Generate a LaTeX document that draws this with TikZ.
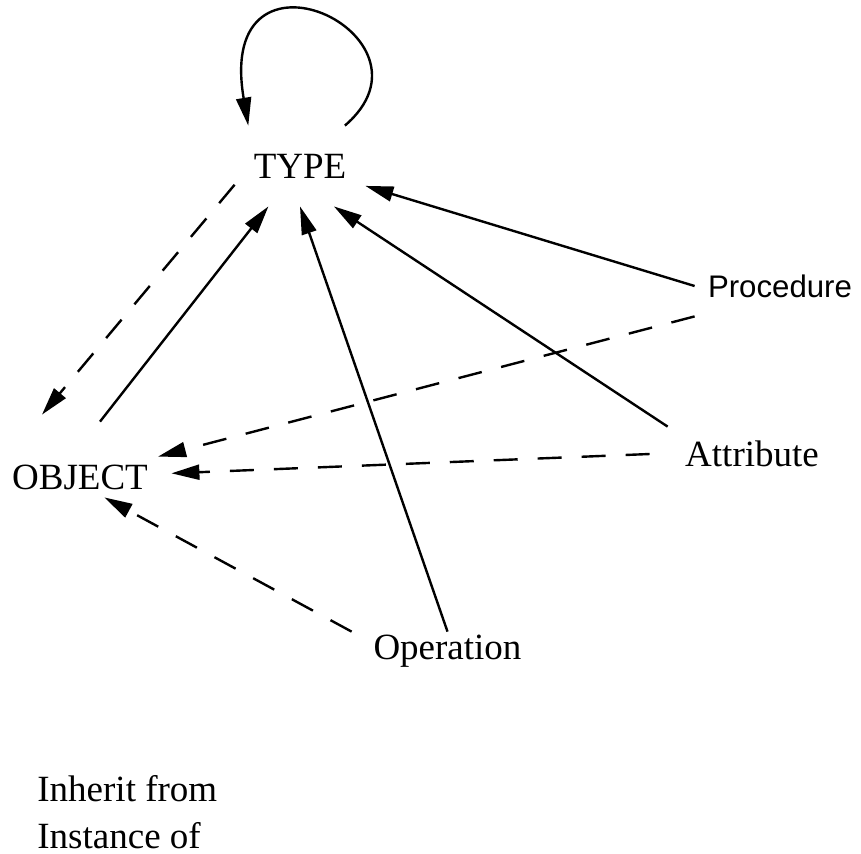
\documentclass[tikz,border=0pt]{standalone}
\usepackage{fontspec}
\setmainfont{Liberation Serif}
\newfontfamily\procfont{Liberation Sans}
\usetikzlibrary{arrows.meta}

\begin{document}
\begin{tikzpicture}[x=0.5pt, y=0.5pt,
    lbl/.style={inner sep=0pt, font=\fontsize{18.5}{22}\selectfont},
    isa/.style={line width=1.2pt, -{Triangle[length=14pt,width=7.5pt]}},
    inst/.style={isa, dash pattern=on 12pt off 10pt}]
			%%%%% START %%%%%
			\useasboundingbox (0,0) rectangle (861,-853);
			
			\node[lbl, minimum width=65pt, minimum height=40pt] (type) at (300,-166) {TYPE};
			\node[lbl, minimum width=91pt, minimum height=20pt] (object) at (80,-477) {OBJECT};
			\node[lbl, font=\procfont\fontsize{15.6}{18}\selectfont, minimum width=85pt, minimum height=30pt] (procedure) at (780,-286) {Procedure};
			\node[lbl, minimum width=102pt, minimum height=27pt] (attribute) at (752,-454) {Attribute};
			\node[lbl, minimum width=95.5pt, minimum height=19pt] (operation) at (447.5,-651) {Operation};
			
			\node[lbl, anchor=base west] (inherit) at (37,-801) {Inherit from};
			\node[lbl, anchor=base west] (instance) at (37,-848) {Instance of};
			
			% TYPE is a type of itself
			\draw[isa] (type.42) .. controls +(105,90) and +(-34,200) .. (type.142);
			
			\draw[inst] (type.196) -- ([xshift=-19pt,yshift=21pt]object.north);
			\draw[isa] ([xshift=10pt,yshift=17.5pt]object.north) -- (type);
			\draw[isa] (procedure.west) -- (type);
			\draw[isa] (attribute.162) -- (type.-50);
			\draw[isa] (operation.north) -- (type.south);
			
			\draw[inst] (procedure.south west) -- (object);
			\draw[inst] (attribute.west) -- (object);
			\draw[inst] (operation.north west) -- (object.-40);
			
			%%%%% END %%%%%
\end{tikzpicture}
\end{document}
